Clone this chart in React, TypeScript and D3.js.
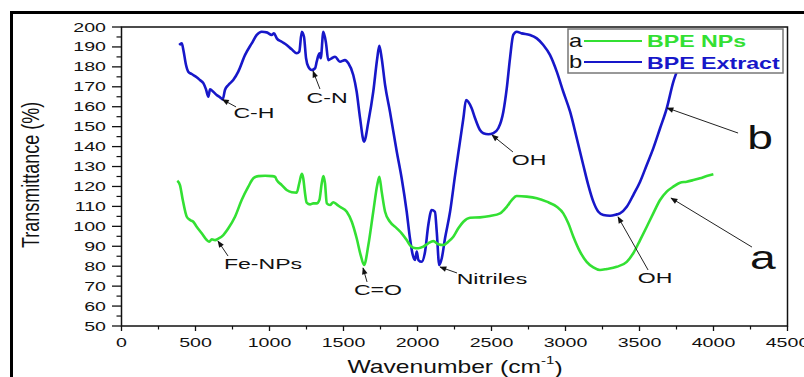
import React from 'react'
import * as d3 from 'd3'

// BPE Extract (b): [wavenumber, transmittance]
const extractWave = [390, 407, 418, 436, 451, 474, 508, 530, 553, 571, 587, 598, 620, 643, 666, 684, 699, 722, 755, 789, 835, 880, 914, 947, 981, 1015, 1030, 1049, 1083, 1116, 1150, 1184, 1201, 1218, 1233, 1247, 1262, 1285, 1308, 1319, 1337, 1346, 1364, 1382, 1397, 1420, 1443, 1476, 1510, 1533, 1566, 1589, 1612, 1639, 1668, 1701, 1728, 1742, 1758, 1781, 1814, 1860, 1893, 1927, 1949, 1968, 1983, 1995, 2006, 2028, 2051, 2073, 2096, 2118, 2130, 2147, 2164, 2186, 2220, 2254, 2287, 2310, 2328, 2343, 2366, 2389, 2422, 2445, 2479, 2512, 2546, 2580, 2603, 2625, 2647, 2670, 2704, 2760, 2806, 2850, 2895, 2941, 2985, 3031, 3076, 3120, 3154, 3188, 3222, 3256, 3301, 3346, 3368, 3414, 3458, 3504, 3549, 3593, 3639, 3684, 3729, 3752, 3774]
const extractTrans = [191.0, 191.8, 188.5, 180.9, 177.6, 176.4, 174.8, 173.4, 171.8, 168.7, 165.0, 168.7, 167.5, 165.9, 164.7, 163.7, 168.4, 170.9, 173.4, 177.6, 186.0, 191.8, 196.0, 197.6, 197.3, 196.0, 196.8, 194.3, 192.6, 191.0, 188.8, 186.8, 187.6, 197.6, 195.1, 184.3, 180.1, 178.4, 179.3, 182.6, 186.8, 184.3, 197.6, 191.8, 183.4, 184.3, 185.1, 182.6, 183.4, 181.8, 175.9, 167.5, 154.2, 142.5, 152.5, 167.5, 184.3, 190.6, 184.3, 170.9, 157.5, 137.4, 124.1, 107.3, 94.0, 85.6, 83.1, 87.3, 83.1, 82.2, 87.3, 100.7, 108.2, 107.3, 97.3, 80.6, 84.0, 94.0, 107.3, 125.7, 142.5, 154.2, 163.4, 162.5, 159.2, 154.2, 148.3, 146.7, 146.2, 146.7, 149.2, 157.5, 169.2, 184.3, 196.0, 197.6, 196.8, 196.0, 194.3, 191.0, 186.0, 177.6, 167.5, 157.5, 144.2, 130.8, 120.7, 112.4, 107.3, 105.7, 105.3, 106.0, 106.5, 109.8, 115.7, 122.4, 130.8, 139.1, 149.2, 159.2, 172.6, 177.6, 182.4]

// BPE NPs (a)
const npsWave = [377, 395, 414, 441, 463, 485, 508, 542, 576, 593, 610, 632, 654, 688, 722, 767, 812, 857, 891, 924, 970, 1015, 1037, 1049, 1083, 1116, 1150, 1184, 1201, 1218, 1228, 1240, 1251, 1274, 1296, 1319, 1337, 1353, 1364, 1375, 1387, 1409, 1431, 1454, 1476, 1522, 1556, 1589, 1616, 1639, 1668, 1701, 1728, 1742, 1758, 1781, 1814, 1860, 1893, 1927, 1949, 1972, 2006, 2039, 2073, 2107, 2141, 2174, 2208, 2242, 2276, 2310, 2355, 2422, 2490, 2558, 2603, 2637, 2670, 2738, 2806, 2873, 2941, 2985, 3019, 3053, 3098, 3143, 3188, 3233, 3279, 3346, 3414, 3458, 3504, 3549, 3593, 3639, 3684, 3729, 3774, 3819, 3864, 3909, 3954, 3999]
const npsTrans = [122.9, 120.7, 113.2, 104.8, 103.2, 102.3, 99.8, 96.5, 93.1, 92.3, 93.5, 93.1, 93.8, 95.6, 99.0, 104.8, 113.2, 119.9, 124.1, 125.2, 125.4, 125.2, 124.9, 123.2, 120.7, 118.2, 117.1, 116.9, 121.6, 126.3, 124.1, 116.6, 111.9, 111.0, 111.5, 111.5, 113.2, 121.6, 125.2, 121.6, 111.5, 110.7, 112.1, 111.0, 109.8, 107.3, 102.3, 94.0, 85.6, 80.6, 90.6, 107.3, 120.7, 124.9, 117.4, 107.3, 102.3, 99.0, 96.5, 93.1, 90.6, 89.3, 89.0, 89.8, 91.5, 92.6, 91.0, 90.6, 92.3, 94.8, 99.0, 102.3, 104.3, 104.5, 105.2, 106.5, 109.8, 113.2, 115.2, 114.9, 114.1, 112.4, 109.8, 106.5, 101.5, 94.8, 87.3, 82.2, 79.4, 78.1, 78.6, 79.7, 82.2, 86.5, 93.1, 99.8, 106.5, 113.2, 117.4, 119.9, 121.9, 122.4, 123.2, 124.1, 125.2, 126.1]

const xTicks = [0, 500, 1000, 1500, 2000, 2500, 3000, 3500, 4000, 4500]
const yTicks = [50, 60, 70, 80, 90, 100, 110, 120, 130, 140, 150, 160, 170, 180, 190, 200]

// peak labels: text centre, arrow tail, arrow tip (data units)
const notes = [
  { label: 'C-H', tx: 895, ty: 156.9, fx: 774, fy: 159.9, px: 682, py: 163.6 },
  { label: 'C-N', tx: 1389, ty: 164.4, fx: 1341, fy: 168.9, px: 1294, py: 177.9 },
  { label: 'OH', tx: 2754, ty: 133.3, fx: 2645, fy: 137.3, px: 2503, py: 145.8 },
  { label: 'Fe-NPs', tx: 956, ty: 81.1, fx: 720, fy: 85.1, px: 652, py: 92.6 },
  { label: 'C=O', tx: 1733, ty: 68.1, fx: 1659, fy: 72.1, px: 1632, py: 79.1 },
  { label: 'Nitriles', tx: 2503, ty: 73.6, fx: 2267, fy: 76.6, px: 2152, py: 79.6 },
  { label: 'OH', tx: 3605, ty: 74.1, fx: 3558, fy: 78.1, px: 3355, py: 104.7 },
]
const bigNotes = [
  { label: 'b', tx: 4314, ty: 144.3, fx: 4166, fy: 146.8, px: 3686, py: 159.4 },
  { label: 'a', tx: 4334, ty: 84.1, fx: 4260, fy: 89.6, px: 3713, py: 114.2 },
]

const BLUE = '#1717c9'
const GREEN = '#33e033'
const FONT = '"Liberation Sans", Arial, sans-serif'

function St({ x, y, sx, size, anchor = 'middle', weight = 'normal', fill = '#111', children }: any) {
  return (
    <text transform={`translate(${x},${y}) scale(${sx},1)`} textAnchor={anchor}
      dominantBaseline="central" fontSize={size} fontWeight={weight} fill={fill} fontFamily={FONT}>
      {children}
    </text>
  )
}

export default function App() {
  const x = d3.scaleLinear().domain([0, 4500]).range([121.5, 787.5])
  const y = d3.scaleLinear().domain([50, 200]).range([326, 27])

  const line = d3.line<number>().curve(d3.curveMonotoneX)
  const extract = line(extractWave.map((w, i) => [x(w), y(extractTrans[i])]) as any)
  const nps = line(npsWave.map((w, i) => [x(w), y(npsTrans[i])]) as any)

  const xMinor = d3.range(250, 4500, 500)
  const yMinor = d3.range(55, 200, 10)

  return (
    <svg width={804} height={377} style={{ position: 'absolute', left: 0, top: 0, background: '#fff' }}>
      <defs>
        <marker id="ah" viewBox="0 0 10 10" refX="9" refY="5" markerWidth="9" markerHeight="7"
          markerUnits="userSpaceOnUse" orient="auto">
          <path d="M0,1 L10,5 L0,9 z" fill="#111" />
        </marker>
      </defs>
      <rect x={11.5} y={12.5} width={820} height={400} fill="none" stroke="#000" strokeWidth={3} />

      <path d={extract || ''} fill="none" stroke={BLUE} strokeWidth={2.6} strokeLinejoin="round" />
      <path d={nps || ''} fill="none" stroke={GREEN} strokeWidth={2.6} strokeLinejoin="round" />

      <rect x={121.5} y={27} width={666} height={299} fill="none" stroke="#111" strokeWidth={1.5} />

      {yTicks.map(t => (
        <g key={'y' + t}>
          <line x1={112} x2={121.5} y1={y(t)} y2={y(t)} stroke="#111" strokeWidth={1.3} />
          <St x={106} y={y(t)} sx={1.57} size={12.5} anchor="end">{t}</St>
        </g>
      ))}
      {yMinor.map(t => (
        <line key={'ym' + t} x1={116.5} x2={121.5} y1={y(t)} y2={y(t)} stroke="#111" strokeWidth={1.2} />
      ))}
      {xTicks.map(t => (
        <g key={'x' + t}>
          <line x1={x(t)} x2={x(t)} y1={326} y2={331} stroke="#111" strokeWidth={1.3} />
          <St x={x(t)} y={342} sx={1.57} size={12.5}>{t}</St>
        </g>
      ))}
      {xMinor.map(t => (
        <line key={'xm' + t} x1={x(t)} x2={x(t)} y1={326} y2={329.5} stroke="#111" strokeWidth={1.2} />
      ))}

      <text transform="translate(31,175) rotate(-90) scale(1,1.28)" textAnchor="middle" dominantBaseline="central"
        fontSize={18} fontFamily={FONT} fill="#111">Transmittance (%)</text>
      <text transform="translate(455,367) scale(1.37,1)" textAnchor="middle" dominantBaseline="central"
        fontSize={18} fontFamily={FONT} fill="#111">
        Wavenumber (cm<tspan fontSize={11} dy={-7}>-1</tspan><tspan dy={7}>)</tspan>
      </text>

      {notes.concat(bigNotes).map((n, i) => (
        <line key={'a' + i} x1={x(n.fx)} y1={y(n.fy)} x2={x(n.px)} y2={y(n.py)}
          stroke="#222" strokeWidth={1} markerEnd="url(#ah)" />
      ))}
      {notes.map((n, i) => (
        <St key={'n' + i} x={x(n.tx)} y={y(n.ty)} sx={1.65} size={14}>{n.label}</St>
      ))}
      {bigNotes.map((n, i) => (
        <St key={'b' + i} x={x(n.tx)} y={y(n.ty)} sx={1.4} size={33}>{n.label}</St>
      ))}

      <rect x={568} y={29} width={215} height={44} fill="#fff" stroke="#777" strokeWidth={1.5} />
      <St x={569} y={41} sx={1.25} size={19} anchor="start">a</St>
      <line x1={584} x2={642} y1={41} y2={41} stroke={GREEN} strokeWidth={2} />
      <St x={647} y={41} sx={1.45} size={16} anchor="start" weight="bold" fill={GREEN}>BPE NPs</St>
      <St x={569} y={62} sx={1.25} size={19} anchor="start">b</St>
      <line x1={584} x2={642} y1={62} y2={62} stroke={BLUE} strokeWidth={2} />
      <St x={647} y={63} sx={1.45} size={16} anchor="start" weight="bold" fill={BLUE}>BPE Extract</St>
    </svg>
  )
}
